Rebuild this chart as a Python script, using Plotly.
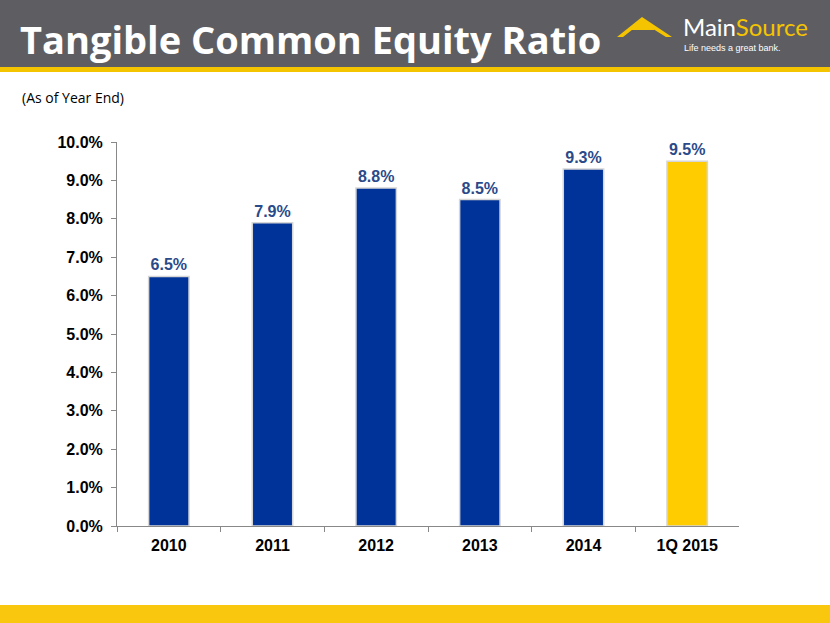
import plotly.graph_objects as go

categories = ["2010", "2011", "2012", "2013", "2014", "1Q 2015"]
values = [6.5, 7.9, 8.8, 8.5, 9.3, 9.5]
bar_colors = ["#003399", "#003399", "#003399", "#003399", "#003399", "#FFCC00"]
y_ticks = [0, 1, 2, 3, 4, 5, 6, 7, 8, 9, 10]
y_tick_labels = [f"{v:.1f}%" for v in y_ticks]
labels = [f"{v:.1f}%" for v in values]

W, H = 830, 623
def px(x):
    return x / W
def py(y):
    return 1 - y / H

fig = go.Figure()
fig.add_trace(go.Bar(
    x=categories, y=values,
    marker=dict(color=bar_colors, line=dict(color="#D6D6D6", width=1.5)),
    text=labels, textposition="outside", cliponaxis=False,
    textfont=dict(family="Liberation Sans, Arial", size=16, color="#2A4A8A"),
    texttemplate="<b>%{text}</b>",
    hoverinfo="skip",
))

shapes = [
    dict(type="rect", xref="paper", yref="paper", x0=0, x1=1, y0=py(67), y1=1,
         fillcolor="#5E5E62", line=dict(width=0), layer="below"),
    dict(type="rect", xref="paper", yref="paper", x0=0, x1=1, y0=py(72), y1=py(67),
         fillcolor="#F5C400", line=dict(width=0), layer="below"),
    dict(type="rect", xref="paper", yref="paper", x0=0, x1=1, y0=0, y1=py(605),
         fillcolor="#F9C80E", line=dict(width=0), layer="below"),
    # logo sunburst (simplified)
    dict(type="path", xref="paper", yref="paper",
         path=f"M {px(617)} {py(37)} L {px(642)} {py(17)} L {px(672)} {py(37)} L {px(666)} {py(37)} L {px(642)} {py(22)} L {px(623)} {py(37)} Z",
         fillcolor="#F5C400", line=dict(width=0)),
    dict(type="path", xref="paper", yref="paper",
         path=f"M {px(630)} {py(30)} L {px(642)} {py(19)} L {px(655)} {py(30)} Z",
         fillcolor="#F5C400", line=dict(width=0)),
]

annotations = [
    dict(text="<b>Tangible Common Equity Ratio</b>", x=px(18), y=py(39), xref="paper", yref="paper",
         xanchor="left", yanchor="middle", showarrow=False,
         font=dict(family="Open Sans, Lato, sans-serif", size=38, color="white")),
    dict(text="Main<span style='color:#F5C400'>Source</span>", x=px(681), y=py(26), xref="paper", yref="paper",
         xanchor="left", yanchor="middle", showarrow=False,
         font=dict(family="Lato, Open Sans, sans-serif", size=24, color="white")),
    dict(text="Life needs a great bank.", x=px(682), y=py(48), xref="paper", yref="paper",
         xanchor="left", yanchor="middle", showarrow=False,
         font=dict(family="Liberation Sans, Arial", size=9, color="white")),
    dict(text="(As of Year End)", x=px(20), y=py(98), xref="paper", yref="paper",
         xanchor="left", yanchor="middle", showarrow=False,
         font=dict(family="Open Sans, sans-serif", size=14, color="black")),
]

fig.update_layout(
    width=W, height=H,
    margin=dict(l=0, r=0, t=0, b=0),
    paper_bgcolor="white", plot_bgcolor="white",
    showlegend=False,
    bargap=0.61,
    shapes=shapes, annotations=annotations,
    xaxis=dict(domain=[px(117), px(739)], automargin=False,
               showline=True, linecolor="#888888", linewidth=1,
               ticks="outside", ticklen=5, tickcolor="#888888",
               tickson="boundaries", showgrid=False, ticklabelstandoff=5,
               tickfont=dict(family="Liberation Sans, Arial", size=16, color="black"),
               tickprefix="<b>", ticksuffix="</b>"),
    yaxis=dict(domain=[py(526), py(142)], automargin=False, range=[0, 10],
               tickvals=y_ticks, ticktext=[f"<b>{t}</b>" for t in y_tick_labels],
               showline=True, linecolor="#888888", linewidth=1,
               ticks="outside", ticklen=5, tickcolor="#888888",
               showgrid=False, zeroline=False, ticklabelstandoff=5,
               tickfont=dict(family="Liberation Sans, Arial", size=16, color="black")),
)

fig.write_html("out.html", config={"displayModeBar": False},
               post_script="document.body.style.margin='0';document.body.style.padding='0';")
